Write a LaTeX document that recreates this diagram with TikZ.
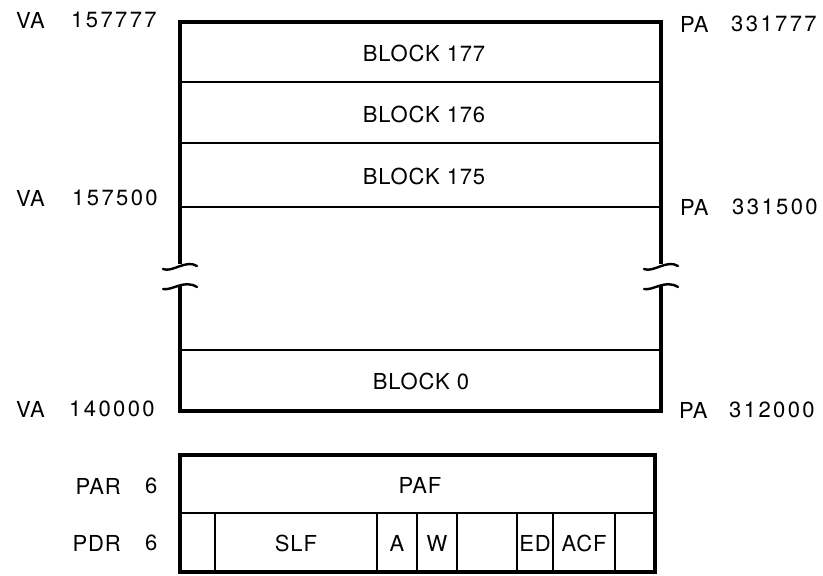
\documentclass[tikz,border=0pt]{standalone}
\usepackage{fontspec}
\setmainfont{TeX Gyre Heros}[LetterSpace=4]
\newfontfamily\numfont{TeX Gyre Heros}[LetterSpace=11]
\begin{document}
\begin{tikzpicture}[x=1pt,y=-1pt,
  frame/.style={line width=3.3pt, line join=miter},
  rule/.style={line width=1.7pt},
  brk/.style={line width=2.4pt, line cap=round},
  lbl/.style={inner sep=0pt, font=\fontsize{22}{26}\selectfont},
  num/.style={inner sep=0pt, font=\fontsize{22}{26}\selectfont\numfont}]
\useasboundingbox (0,0) rectangle (823,576);

% main memory frame
\draw[frame] (180,264) -- (180,22) -- (661,22) -- (661,264);
\draw[frame] (180,285) -- (180,411) -- (661,411) -- (661,285);
% break marks
\foreach \x in {180,661}{
  \draw[brk] (\x-17,269) .. controls (\x-8,273) and (\x+6,259) .. (\x+17,266);
  \draw[brk] (\x-17,289) .. controls (\x-8,291) and (\x+4,279) .. (\x+17,287);
}
% block rules
\foreach \y in {82,143,207,350}{
  \draw[rule] (180,\y) -- (661,\y);
}
\node[lbl] (b177) at (424,53) {BLOCK 177};
\node[lbl] (b176) at (424,114) {BLOCK 176};
\node[lbl] (b175) at (424,176) {BLOCK 175};
\node[lbl] (b0) at (421,381) {BLOCK 0};

% left labels
\node[lbl,anchor=west] (va1) at (16,20) {VA};
\node[num,anchor=west] (va1n) at (71,20) {157777};
\node[lbl,anchor=west] (va2) at (16,198) {VA};
\node[num,anchor=west] (va2n) at (72,198) {157500};
\node[lbl,anchor=west] (va3) at (16,409) {VA};
\node[num,anchor=west] (va3n) at (69,409) {140000};
% right labels
\node[lbl,anchor=west] (pa1) at (680,24) {PA};
\node[num,anchor=west] (pa1n) at (731,24) {331777};
\node[lbl,anchor=west] (pa2) at (680,207) {PA};
\node[num,anchor=west] (pa2n) at (732,207) {331500};
\node[lbl,anchor=west] (pa3) at (679,410) {PA};
\node[num,anchor=west] (pa3n) at (729,410) {312000};

% page registers
\draw[frame] (180,455) rectangle (655,572);
\draw[rule] (180,513) -- (655,513);
\foreach \x in {215,377,417,457,517,553,615}{
  \draw[rule] (\x,513) -- (\x,572);
}
\node[lbl] (paf) at (420,485) {PAF};
\node[lbl] (slf) at (296,543) {SLF};
\node[lbl] (fa) at (397,543) {A};
\node[lbl] (fw) at (437,543) {W};
\node[lbl] (fed) at (535,543) {ED};
\node[lbl] (facf) at (584,543) {ACF};

\node[lbl,anchor=east] (par) at (121,486) {PAR};
\node[lbl,anchor=west] (parn) at (145,486) {6};
\node[lbl,anchor=east] (pdr) at (121,543) {PDR};
\node[lbl,anchor=west] (pdrn) at (145,543) {6};
\end{tikzpicture}
\end{document}
